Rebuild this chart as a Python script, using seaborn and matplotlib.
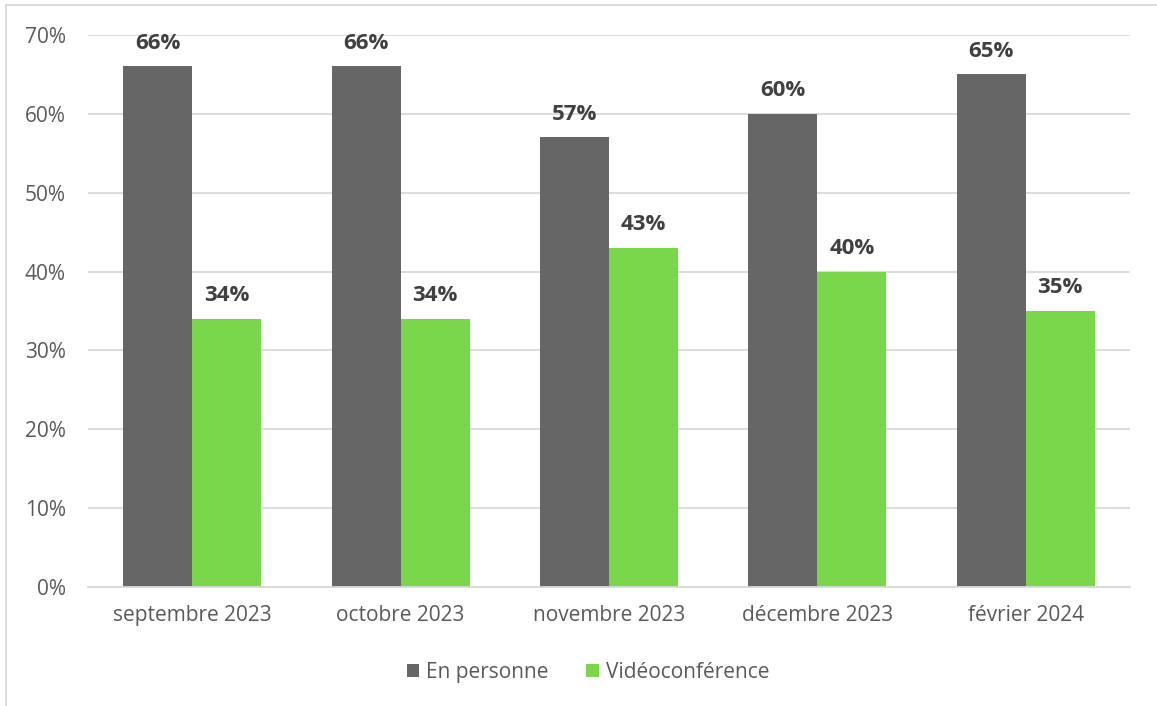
import matplotlib
matplotlib.use("Agg")
import matplotlib.pyplot as plt
import seaborn as sns
import pandas as pd
from matplotlib.patches import Rectangle
from matplotlib.ticker import PercentFormatter

# data
months = ["septembre 2023", "octobre 2023", "novembre 2023", "décembre 2023", "février 2024"]
en_personne = [66, 66, 57, 60, 65]
video = [34, 34, 43, 40, 35]
series_names = ["En personne", "Vidéoconférence"]
colors = ["#666666", "#7AD74B"]

df = pd.DataFrame({
    "Mois": months * 2,
    "Valeur": en_personne + video,
    "Mode": [series_names[0]] * len(months) + [series_names[1]] * len(months),
})

sns.set_theme(style="white")
plt.rcParams["font.family"] = ["Open Sans", "DejaVu Sans"]

fig = plt.figure(figsize=(11.57, 7.06), dpi=100)
ax = fig.add_axes([0.076, 0.1686, 0.9006, 0.7819])

sns.barplot(data=df, x="Mois", y="Valeur", hue="Mode", palette=colors,
            width=0.662, saturation=1, ax=ax, legend=True)

for p in ax.patches:
    p.set_edgecolor("none")

# value labels
for cont in ax.containers:
    ax.bar_label(cont, labels=[f"{v:.0f}%" for v in cont.datavalues],
                 padding=9, fontsize=16, fontweight="bold", color="#404040")

ax.set_ylim(0, 70)
ax.set_xlim(-0.5, len(months) - 0.5)
ax.set_yticks(range(0, 71, 10))
ax.yaxis.set_major_formatter(PercentFormatter(decimals=0))
ax.grid(axis="y", color="#D9D9D9", linewidth=1.3)
ax.set_axisbelow(True)
for s in ["left", "right", "top"]:
    ax.spines[s].set_visible(False)
ax.spines["bottom"].set_color("#D9D9D9")
ax.spines["bottom"].set_linewidth(1.3)
ax.tick_params(axis="both", length=0, labelsize=15, labelcolor="#595959")
ax.tick_params(axis="x", pad=13)
ax.tick_params(axis="y", pad=16)
ax.set_xlabel("")
ax.set_ylabel("")

leg = ax.legend(loc="center", bbox_to_anchor=(0.48, -0.155), ncol=2, frameon=False,
                fontsize=15, handlelength=0.6, handleheight=0.6, handletextpad=0.35,
                columnspacing=1.8)
for t in leg.get_texts():
    t.set_color("#595959")

# outer chart border
fig.patches.append(Rectangle((6 / 1157, -0.1), 1.2, 1.1 - 5 / 706, transform=fig.transFigure,
                             fill=False, edgecolor="#D9D9D9", linewidth=1.3))

fig.savefig("out.png", dpi=100)
